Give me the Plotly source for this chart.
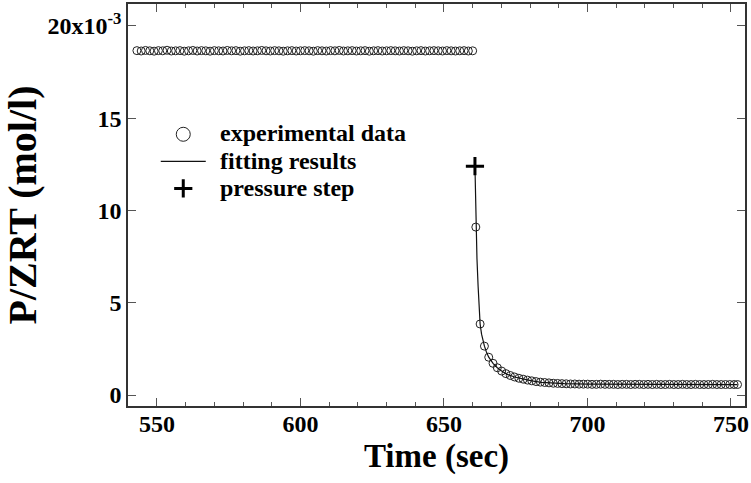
import plotly.graph_objects as go

# ---------------- data (values in 1e-3 mol/l, time in sec) ----------------
flat_t = [543.0, 544.5, 546.0, 547.5, 549.0, 550.5, 552.0, 553.5, 555.0, 556.5,
          558.0, 559.5, 561.0, 562.5, 564.0, 565.5, 567.0, 568.5, 570.0, 571.5,
          573.0, 574.5, 576.0, 577.5, 579.0, 580.5, 582.0, 583.5, 585.0, 586.5,
          588.0, 589.5, 591.0, 592.5, 594.0, 595.5, 597.0, 598.5, 600.0, 601.5,
          603.0, 604.5, 606.0, 607.5, 609.0, 610.5, 612.0, 613.5, 615.0, 616.5,
          618.0, 619.5, 621.0, 622.5, 624.0, 625.5, 627.0, 628.5, 630.0, 631.5,
          633.0, 634.5, 636.0, 637.5, 639.0, 640.5, 642.0, 643.5, 645.0, 646.5,
          648.0, 649.5, 651.0, 652.5, 654.0, 655.5, 657.0, 658.5, 660.0]
flat_v = [18.66, 18.64, 18.67, 18.65, 18.63, 18.66, 18.65, 18.68, 18.64, 18.65,
          18.66, 18.63, 18.65, 18.67, 18.64, 18.66, 18.65, 18.63, 18.66, 18.65,
          18.64, 18.67, 18.65, 18.66, 18.63, 18.65, 18.66, 18.64, 18.65, 18.67,
          18.65, 18.64, 18.66, 18.65, 18.63, 18.65, 18.66, 18.64, 18.65, 18.66,
          18.65, 18.63, 18.66, 18.65, 18.64, 18.66, 18.65, 18.67, 18.64, 18.65,
          18.66, 18.64, 18.65, 18.66, 18.63, 18.65, 18.66, 18.64, 18.65, 18.66,
          18.65, 18.64, 18.66, 18.65, 18.63, 18.65, 18.66, 18.64, 18.65, 18.66,
          18.65, 18.64, 18.66, 18.65, 18.64, 18.65, 18.66, 18.64, 18.65]

decay_t = [661.1, 662.6, 664.1, 665.6, 667.1, 668.6, 670.1, 671.6, 673.1, 674.6,
           676.1, 677.6, 679.1, 680.6, 682.1, 683.6, 685.1, 686.6, 688.1, 689.6,
           691.1, 692.6, 694.1, 695.6, 697.1, 698.6, 700.1, 701.6, 703.1, 704.6,
           706.1, 707.6, 709.1, 710.6, 712.1, 713.6, 715.1, 716.6, 718.1, 719.6,
           721.1, 722.6, 724.1, 725.6, 727.1, 728.6, 730.1, 731.6, 733.1, 734.6,
           736.1, 737.6, 739.1, 740.6, 742.1, 743.6, 745.1, 746.6, 748.1, 749.6,
           751.1, 752.3]
decay_v = [9.10, 3.85, 2.65, 2.05, 1.72, 1.48, 1.30, 1.16, 1.06, 0.98,
           0.91, 0.86, 0.81, 0.77, 0.73, 0.70, 0.68, 0.66, 0.64, 0.63,
           0.62, 0.61, 0.60, 0.60, 0.59, 0.59, 0.59, 0.58, 0.58, 0.59,
           0.58, 0.58, 0.58, 0.57, 0.58, 0.58, 0.57, 0.58, 0.58, 0.57,
           0.58, 0.57, 0.58, 0.57, 0.57, 0.58, 0.57, 0.57, 0.58, 0.57,
           0.57, 0.58, 0.57, 0.57, 0.57, 0.58, 0.57, 0.57, 0.57, 0.57,
           0.57, 0.57]

fit_t = [660.8, 661.1, 661.5, 661.9, 662.3, 662.6, 663.1, 663.6, 664.1, 664.8,
         665.6, 667.1, 668.6, 670.1, 672.0, 674.6, 677.6, 680.6, 684.0, 688.0,
         692.0, 700.0, 710.0, 720.0, 730.0, 740.0, 752.3]
fit_v = [12.40, 9.10, 7.40, 5.90, 4.60, 3.85, 3.30, 2.95, 2.65, 2.33,
         2.05, 1.72, 1.48, 1.30, 1.12, 0.98, 0.86, 0.77, 0.69, 0.64,
         0.62, 0.59, 0.58, 0.58, 0.57, 0.57, 0.57]

step_t = [660.8]
step_v = [12.40]

y_tickvals = [0, 5, 10, 15, 20]
y_ticktext = ["0", "5", "10", "15", "20x10<sup>-3</sup>"]
x_tickvals = [550, 600, 650, 700, 750]

legend_names = ["experimental data", "fitting results", "pressure step"]

SCALE = 1e-3
FONT = "Liberation Serif"


def legend_label(s):
    return "\u00a0\u00a0<span style='font-size:24px'>" + s + "</span>"


exp_t = flat_t + decay_t
exp_v = [v * SCALE for v in flat_v + decay_v]

circle_style = dict(symbol="circle-open", color="#222222")
fit_line = dict(color="#111111", width=1.2)
cross_style = dict(symbol="cross-thin", color="black")

fig = go.Figure()
# data traces
fig.add_trace(go.Scatter(
    x=exp_t, y=exp_v, mode="markers", showlegend=False,
    marker=dict(size=8, line=dict(width=1, color="#222222"), **circle_style),
))
fig.add_trace(go.Scatter(
    x=fit_t, y=[v * SCALE for v in fit_v], mode="lines", showlegend=False,
    line=fit_line,
))
fig.add_trace(go.Scatter(
    x=step_t, y=[v * SCALE for v in step_v], mode="markers", showlegend=False,
    marker=dict(size=13, line=dict(width=3, color="black"), **cross_style),
))
# legend-only entries (no data drawn)
fig.add_trace(go.Scatter(
    x=[None], y=[None], mode="markers", name=legend_label(legend_names[0]),
    marker=dict(size=14, line=dict(width=1, color="#222222"), **circle_style),
))
fig.add_trace(go.Scatter(
    x=[None], y=[None], mode="lines", name=legend_label(legend_names[1]),
    line=fit_line,
))
fig.add_trace(go.Scatter(
    x=[None], y=[None], mode="markers", name=legend_label(legend_names[2]),
    marker=dict(size=13, line=dict(width=3, color="black"), **cross_style),
))

axis_common = dict(
    showline=True, linecolor="#333333", linewidth=1.5, mirror="ticks",
    ticks="inside", ticklen=8, tickwidth=1.2, tickcolor="#555555",
    showgrid=False, zeroline=False,
    tickfont=dict(family=FONT, size=24, color="black", weight="bold"),
)

fig.update_xaxes(
    range=[539.9, 754.9], tickvals=x_tickvals,
    minor=dict(ticks="inside", ticklen=4, tickcolor="#555555", tickwidth=1, dtick=10,
               tick0=550),
    ticklabelstandoff=-5,
    title=dict(text="Time (sec)", font=dict(family=FONT, size=33, color="black",
                                            weight="bold"), standoff=8),
    **axis_common,
)
fig.update_yaxes(
    range=[-0.593 * SCALE, 21.186 * SCALE],
    tickvals=[v * SCALE for v in y_tickvals], ticktext=y_ticktext,
    title=dict(text="P/ZRT (mol/l)", font=dict(family=FONT, size=40, color="black",
                                               weight="bold"), standoff=10),
    **axis_common,
)

fig.update_layout(
    width=751, height=483,
    margin=dict(l=128, r=6, t=2, b=77),
    plot_bgcolor="white", paper_bgcolor="white",
    showlegend=True,
    legend=dict(
        x=0.045, y=0.722, xanchor="left", yanchor="top",
        font=dict(family=FONT, size=18.5, color="black", weight="bold"),
        bgcolor="rgba(0,0,0,0)", itemwidth=45, tracegroupgap=0,
    ),
)

fig.write_html("out.html")
